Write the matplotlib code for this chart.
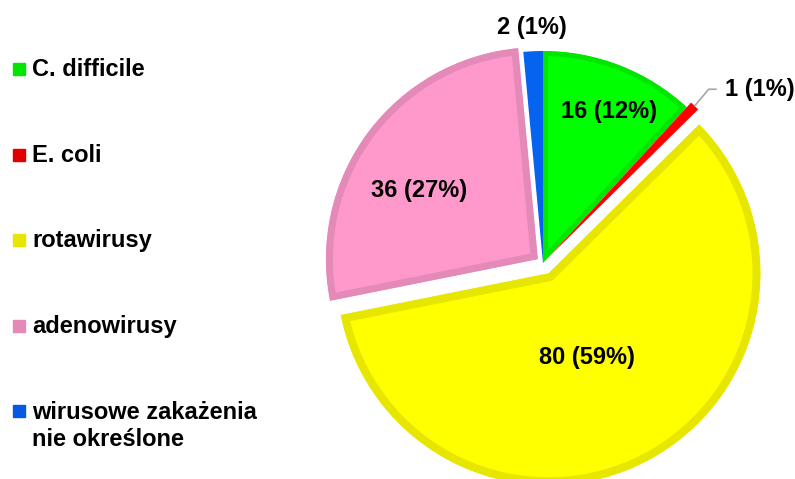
import numpy as np
import matplotlib.pyplot as plt
from matplotlib.patches import Rectangle

plt.rcParams['font.family'] = ['Liberation Sans', 'DejaVu Sans']

# data
categories = ['C. difficile', 'E. coli', 'rotawirusy', 'adenowirusy',
              'wirusowe zakażenia\nnie określone']
counts = [16, 1, 80, 36, 2]

# styles
fills = ['#00FF00', '#FF0000', '#FFFF00', '#FF99CC', '#0563F0']
edges = ['#00E600', '#E00000', '#E6E600', '#E38AB9', '#0558E0']
edge_px = [5, 0, 8, 7, 0]
explode = [0.0, 0.03, 0.055, 0.03, 0.0]
label_r = [0.80, 1.0, 0.45, 0.66, 1.11]
label_dxy = [(0.02, -0.03), (0, 0), (-0.03, 0), (-0.03, -0.07), (0.0, 0.0)]

fig = plt.figure(figsize=(7.95, 4.79), dpi=100)
R = 212
cx, cy = 543, 263
ax = fig.add_axes([(cx - R) / 795, (479 - cy - R) / 479, 2 * R / 795, 2 * R / 479])

wedges, _ = ax.pie(counts, colors=fills, startangle=90, counterclock=False,
                   explode=explode, radius=1)
for w, ec, px in zip(wedges, edges, edge_px):
    if px > 0:
        # border drawn only inside the wedge
        w.set_edgecolor(ec)
        w.set_linewidth(px * 2 * 0.72)
        w.set_clip_path(w)
        w.set_clip_box(None)
        w.set_clip_on(True)
    else:
        w.set_linewidth(0)
        w.set_clip_on(False)
ax.set_xlim(-1, 1)
ax.set_ylim(-1, 1)
ax.set_aspect('auto')
ax.axis('off')

total = sum(counts)
cum = np.cumsum([0] + counts)
for i, c in enumerate(counts):
    mid = (cum[i] + c / 2) / total * 2 * np.pi
    ex = explode[i]
    txt = f'{c} ({c / total * 100:.0f}%)'
    if i == 1:
        xy = ((1 + ex) * np.sin(mid), (1 + ex) * np.cos(mid))
        ax.annotate(txt, xy=xy, xytext=(21.5, 12), textcoords='offset points',
                    ha='left', va='center', fontsize=17, fontweight='bold',
                    annotation_clip=False,
                    arrowprops=dict(arrowstyle='-', color='#A6A6A6', lw=1.2,
                                    relpos=(0, 0.5), shrinkA=4, shrinkB=0,
                                    connectionstyle='angle,angleA=180,angleB=50,rad=0'))
        continue
    r = label_r[i] + ex
    x = r * np.sin(mid) + label_dxy[i][0]
    y = r * np.cos(mid) + label_dxy[i][1]
    ax.text(x, y, txt, ha='center', va='center', fontsize=17,
            fontweight='bold', clip_on=False)

# legend
leg_y = [69, 155, 240, 326, 411]
for lab, col, yy in zip(categories, edges, leg_y):
    fig.patches.append(Rectangle((13 / 795, 1 - (yy + 6) / 479), 12 / 795, 12 / 479,
                                 transform=fig.transFigure, color=col))
    multi = '\n' in lab
    fig.text(32 / 795, 1 - (yy - 10 if multi else yy) / 479, lab, ha='left',
             va='top' if multi else 'center',
             fontsize=17, fontweight='bold', linespacing=1.25,
             transform=fig.transFigure)

fig.savefig('out.png', dpi=100)
